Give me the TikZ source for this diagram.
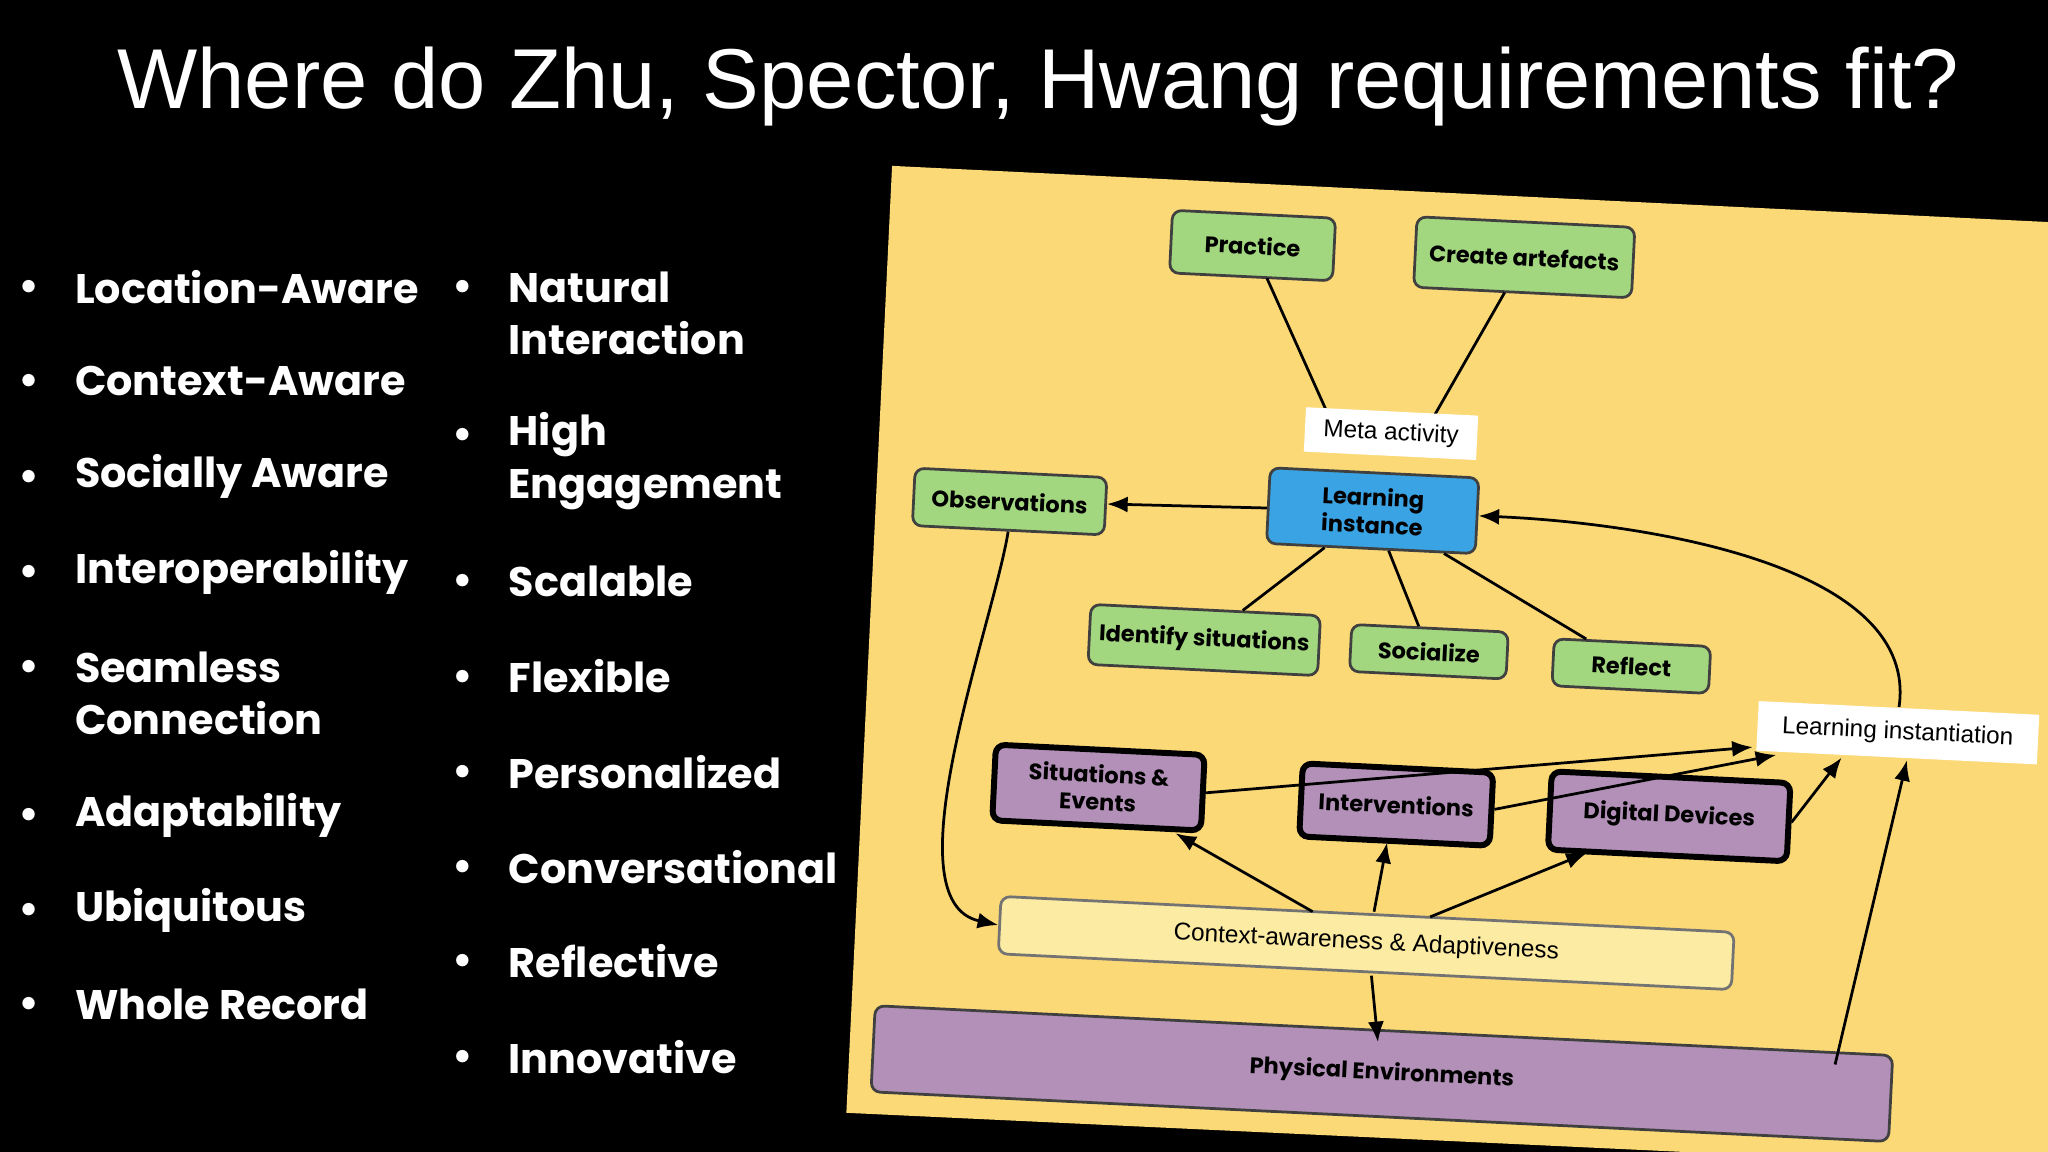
\documentclass[tikz,border=0pt]{standalone}
\usepackage{fontspec}
\setmainfont{Liberation Sans}
\newfontfamily\pop{Poppins}
\usetikzlibrary{arrows.meta}
\definecolor{panel}{HTML}{FCD977}
\definecolor{gbox}{HTML}{A3D77F}
\definecolor{bbox}{HTML}{3AA3E3}
\definecolor{pbox}{HTML}{B290B8}
\definecolor{cbox}{HTML}{FCEBA3}
\newdimen\px \px=0.01cm
\begin{document}
\begin{tikzpicture}[x=0.01cm,y=-0.01cm,
  bl/.style={font=\pop\bfseries\fontsize{9pt}{11.4pt}\selectfont, text=white, anchor=west, align=left},
  dot/.style={font=\pop\fontsize{6pt}{7pt}\selectfont, text=white},
  bx/.style={draw=black!75, rounded corners=2pt, line width=0.6pt, rotate=-2.8, align=center, inner sep=1pt,
     font=\pop\bfseries\fontsize{4.9pt}{6pt}\selectfont},
  gb/.style={bx, fill=gbox},
  pb/.style={bx, fill=pbox, line width=1.3pt, draw=black},
  wb/.style={rotate=-2.8, fill=white, inner sep=1pt, align=center, font=\fontsize{5.3pt}{6.5pt}\selectfont},
  ln/.style={line width=0.6pt},
  ar/.style={line width=0.6pt, -{Latex[length=4.5pt,width=3.5pt]}}]
\useasboundingbox (0,0) rectangle (1568,882);
\fill[black] (0,0) rectangle (1568,882);
\fill[panel] (683,127) -- (1568,170) -- (1568,882) -- (1290,882) -- (648,852) -- cycle;
\node[text=white, font=\fontsize{18.5pt}{22pt}\selectfont] (title) at (795,66) {Where do Zhu, Spector, Hwang requirements fit?};
% left column
\foreach \y/\t in {220/Location-Aware,292/Context-Aware,365/Socially Aware,438/Interoperability,531/Seamless\\Connection,624/Adaptability,697/Ubiquitous,769/Whole Record}{
  \node[dot] at (22,\ifnum\y=531 511\else\y\fi) {$\bullet$};
  \node[bl] at (45,\y) {\t};}
\foreach \y/\t in {240/Natural\\Interaction,353/High\\Engagement,445/Scalable,518/Flexible,591/Personalized,664/Conversational,736/Reflective,809/Innovative}{
  \node[dot] at (354,\ifnum\y=240 220\else\ifnum\y=353 333\else\y\fi\fi) {$\bullet$};
  \node[bl] at (377,\y) {\t};}
% diagram nodes
\node[gb, minimum width=125\px, minimum height=48\px] (prac) at (959,188) {Practice};
\node[gb, minimum width=167\px, minimum height=54\px] (crea) at (1167,197) {Create artefacts};
\node[bx, fill=bbox, minimum width=160\px, minimum height=58\px] (li) at (1051,391) {Learning\\instance};
\node[gb, minimum width=147\px, minimum height=44\px] (obs) at (773,384) {Observations};
\node[gb, minimum width=176\px, minimum height=46\px] (ids) at (922,490) {Identify situations};
\node[gb, minimum width=120\px, minimum height=36\px] (soc) at (1094,499) {Socialize};
\node[gb, minimum width=120\px, minimum height=36\px] (ref) at (1249,510) {Reflect};
\node[pb, minimum width=160\px, minimum height=58\px] (sit) at (841,603) {Situations \&\\Events};
\node[pb, minimum width=146\px, minimum height=56\px] (int) at (1069,616) {Interventions};
\node[pb, minimum width=183\px, minimum height=60\px] (dig) at (1278,625) {Digital Devices};
\node[bx, fill=cbox, draw=black!55, font=\fontsize{5.3pt}{6.5pt}\selectfont, minimum width=562\px, minimum height=44\px] (ctx) at (1046,722) {Context-awareness \& Adaptiveness};
\node[bx, fill=pbox, minimum width=780\px, minimum height=66\px] (phy) at (1058,822) {Physical Environments};
% edges
\coordinate (m1) at (1018,320);
\coordinate (m2) at (1096,322);
\coordinate (pbot) at (970,213);
\coordinate (cbot) at (1152,224);
\draw[ln] (pbot) -- (m1);
\draw[ln] (cbot) -- (m2);
\node[wb, minimum width=132\px, minimum height=34\px] (meta) at (1065,332) {Meta activity};
\draw[ar] (li) -- (obs);
\draw[ln] (li) -- (ids);
\draw[ln] (li) -- (soc);
\draw[ln] (li) -- (ref);
\node[wb, minimum width=215\px, minimum height=38\px] (linst) at (1453,561) {Learning instantiation};
\draw[ar] (obs.south) .. controls (760,480) and (680,690) .. (ctx.west);
\draw[ar] (linst.north) .. controls (1470,430) and (1250,400) .. (li.east);
\draw[ar] (sit.east) -- (1342,572);
\draw[ar] (int.east) -- (1360,578);
\draw[ar] (dig.east) -- (1410,580);
\draw[ar] (1005,698) -- (900,638);
\draw[ar] (1052,698) -- (1062,645);
\draw[ar] (1095,702) -- (1215,653);
\draw[ar] (1050,747) -- (1055,798);
\draw[ar] (1405,815) -- (1460,582);
\end{tikzpicture}
\end{document}
